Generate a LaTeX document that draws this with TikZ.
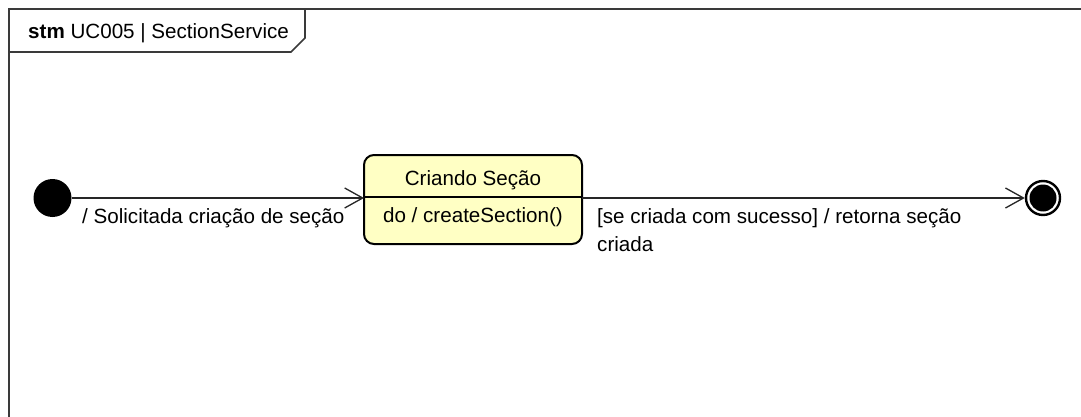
\documentclass[tikz,border=0pt]{standalone}
\usepackage{fontspec}
\setmainfont{Liberation Sans}
\usetikzlibrary{arrows.meta}
\definecolor{statefill}{HTML}{FFFFC4}
\definecolor{framecol}{HTML}{3A3A3A}
\begin{document}
\begin{tikzpicture}[x=1pt,y=-1pt,
  lbl/.style={font=\fontsize{20.6}{25}\selectfont, inner sep=0pt},
  conn/.style={draw=black!85, line width=1.3pt, -{Straight Barb[length=18pt,width=20pt,line width=1.3pt]}},
  statebox/.style={draw=black, line width=2pt, fill=statefill, rounded corners=10pt},
  framel/.style={draw=framecol, line width=1.6pt}
]
\useasboundingbox[fill=white] (0,0) rectangle (1081,417);
% frame
\draw[framel] (9,417) -- (9,9) -- (1081,9);
\draw[framel] (9,52) -- (291,52) -- (305,38) -- (305,9);
\node[lbl, anchor=west] (title) at (28,33) {\textbf{stm} UC005 | SectionService};
% initial
\node[circle, fill=black, minimum size=38pt, inner sep=0pt] (init) at (52.5,198) {};
% state
\draw[statebox] (364,155) rectangle (582,244);
\node[inner sep=0pt, minimum width=218pt, minimum height=89pt] (st) at (473,199.5) {};
\draw[line width=1.3pt] (364,197) -- (582,197);
\node[lbl] (stname) at (473,180) {Criando Seção};
\node[lbl] (stdo) at (473,217) {do / createSection()};
% final
\node[circle, draw=black, line width=2.4pt, fill=white, minimum size=34pt, inner sep=0pt] (final) at (1043,198) {};
\node[circle, fill=black, minimum size=27pt, inner sep=0pt] (finalin) at (1043,198) {};
% connectors
\coordinate (a1) at (364,198);
\coordinate (a2) at (582,198);
\draw[conn] (init.east) -- (a1);
\draw[conn] (a2) -- (final.west);
\node[lbl, anchor=west] (l1) at (82,218) {/ Solicitada criação de seção};
\node[lbl, anchor=west] (l2a) at (597,218) {[se criada com sucesso] / retorna seção};
\node[lbl, anchor=west] (l2b) at (597,244) {criada};
\end{tikzpicture}
\end{document}
